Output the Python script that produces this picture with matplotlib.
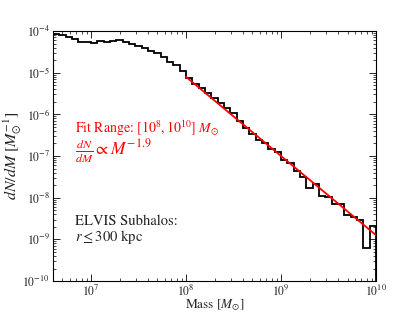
import numpy as np
import matplotlib
matplotlib.use("Agg")
import matplotlib.pyplot as plt
from matplotlib.ticker import NullFormatter

plt.rcParams['font.family'] = ['STIXGeneral', 'DejaVu Serif']
plt.rcParams['mathtext.fontset'] = 'stix'

# Histogram bin edges (log-spaced, 15 bins per decade)
bin_edges = np.logspace(6.6, 10.0, 52)
# dN/dM per bin
dndm = [8.5e-5, 8.1e-5, 7.1e-5, 6.3e-5, 5.5e-5, 5.4e-5, 5.1e-5, 5.75e-5, 5.5e-5, 5.7e-5,
        6.1e-5, 5.4e-5, 4.9e-5, 4.37e-5, 3.85e-5, 3.37e-5, 2.92e-5, 2.42e-5, 1.83e-5, 1.53e-5,
        1.12e-5, 7.3e-6, 5.4e-6, 4.2e-6, 3.2e-6, 2.43e-6, 1.84e-6, 1.40e-6, 1.06e-6, 6.9e-7,
        4.6e-7, 3.4e-7, 2.4e-7, 2.0e-7, 1.47e-7, 1.23e-7, 8.0e-8, 6.7e-8, 4.4e-8, 3.2e-8,
        1.7e-8, 2.1e-8, 1.10e-8, 1.05e-8, 7.0e-9, 6.9e-9, 3.8e-9, 3.4e-9, 3.0e-9, 6.3e-10,
        2.1e-9]

# Power-law fit
fit_range = [1e8, 1e10]
fit_slope = -1.9
fit_norm = 10**-5.1  # dN/dM at M = 1e8

fig = plt.figure(figsize=(4.17, 3.13), dpi=100)
ax = fig.add_axes([0.127, 0.102, 0.775, 0.799])

ax.stairs(dndm, bin_edges, baseline=1e-12, color='black', lw=1.3)

m_fit = np.logspace(np.log10(fit_range[0]), np.log10(fit_range[1]), 50)
ax.plot(m_fit, fit_norm * (m_fit / fit_range[0])**fit_slope, color='red', lw=1.3)

ax.set_xscale('log')
ax.set_yscale('log')
ax.set_xlim(10**6.6, 1e10)
ax.set_ylim(1e-10, 1e-4)
ax.xaxis.set_minor_formatter(NullFormatter())
ax.yaxis.set_minor_formatter(NullFormatter())

ax.tick_params(which='both', direction='in', top=True, right=True, labelsize=8.5,
               labelcolor='#222222')
ax.tick_params(which='major', length=5, width=0.6, pad=2)
ax.tick_params(which='minor', length=2.5, width=0.5)
for s in ax.spines.values():
    s.set_linewidth(0.8)

ax.set_xlabel(r'Mass $[M_{\odot}]$', fontsize=9.5, labelpad=-1, color='#222222')
ax.set_ylabel(r'$dN/dM\ [M_{\odot}^{-1}]$', fontsize=11.5, color='#222222')
ax.yaxis.set_label_coords(-0.092, 0.5)

ax.text(0.068, 0.612, r'Fit Range: $[10^8, 10^{10}]\ M_{\odot}$', color='red',
        fontsize=10, transform=ax.transAxes, va='center')
ax.text(0.068, 0.515, r'$\frac{dN}{dM} \propto M^{-1.9}$', color='red',
        fontsize=12.5, transform=ax.transAxes, va='center')
ax.text(0.068, 0.24, 'ELVIS Subhalos:', color='#222222',
        fontsize=10.5, transform=ax.transAxes, va='center')
ax.text(0.068, 0.175, r'$r \leq 300$ kpc', color='#222222',
        fontsize=10.5, transform=ax.transAxes, va='center')

fig.savefig('out.png', dpi=100)
